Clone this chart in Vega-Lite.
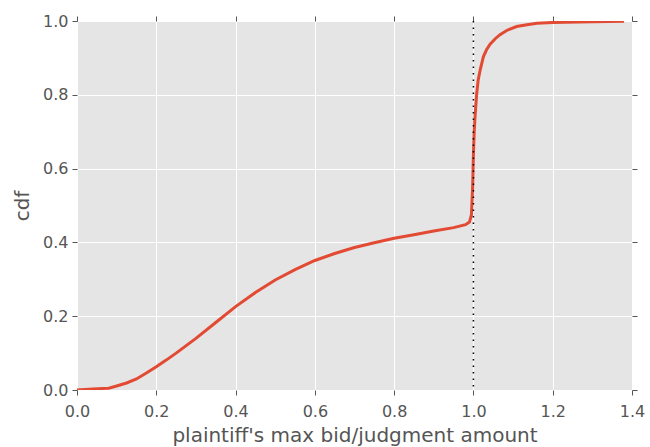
{
  "$schema": "https://vega.github.io/schema/vega-lite/v6.json",
  "autosize": {"type": "none"},
  "padding": {"left": 77, "top": 21, "right": 18, "bottom": 57},
  "width": 555,
  "height": 369,
  "background": "white",
  "config": {
    "view": {"fill": "#E5E5E5", "stroke": null},
    "font": "DejaVu Sans",
    "axis": {
      "gridColor": "white",
      "gridWidth": 1,
      "gridOpacity": 1,
      "domain": false,
      "tickColor": "#555555",
      "tickSize": 5,
      "tickWidth": 1,
      "labelColor": "#555555",
      "labelFontSize": 16,
      "titleColor": "#555555",
      "titleFontSize": 20,
      "titleFontWeight": "normal",
      "labelFont": "DejaVu Sans",
      "titleFont": "DejaVu Sans"
    }
  },
  "datasets": {
    "cdf": [
      {"x": 0.0, "y": 0.0},
      {"x": 0.04, "y": 0.003},
      {"x": 0.08, "y": 0.005},
      {"x": 0.1, "y": 0.011},
      {"x": 0.125, "y": 0.019},
      {"x": 0.15, "y": 0.03},
      {"x": 0.175, "y": 0.046},
      {"x": 0.2, "y": 0.063},
      {"x": 0.225, "y": 0.081},
      {"x": 0.25, "y": 0.1},
      {"x": 0.3, "y": 0.14},
      {"x": 0.35, "y": 0.183},
      {"x": 0.4, "y": 0.226},
      {"x": 0.45, "y": 0.264},
      {"x": 0.5, "y": 0.298},
      {"x": 0.55, "y": 0.326},
      {"x": 0.6, "y": 0.351},
      {"x": 0.65, "y": 0.37},
      {"x": 0.7, "y": 0.386},
      {"x": 0.75, "y": 0.399},
      {"x": 0.8, "y": 0.411},
      {"x": 0.85, "y": 0.421},
      {"x": 0.9, "y": 0.431},
      {"x": 0.95, "y": 0.44},
      {"x": 0.98, "y": 0.448},
      {"x": 0.99, "y": 0.455},
      {"x": 0.995, "y": 0.475},
      {"x": 0.998, "y": 0.55},
      {"x": 1.0, "y": 0.64},
      {"x": 1.002, "y": 0.7},
      {"x": 1.004, "y": 0.74},
      {"x": 1.008, "y": 0.8},
      {"x": 1.012, "y": 0.84},
      {"x": 1.017, "y": 0.867},
      {"x": 1.025, "y": 0.903},
      {"x": 1.033, "y": 0.922},
      {"x": 1.042, "y": 0.937},
      {"x": 1.055, "y": 0.952},
      {"x": 1.067, "y": 0.963},
      {"x": 1.085, "y": 0.975},
      {"x": 1.109, "y": 0.985},
      {"x": 1.135, "y": 0.99},
      {"x": 1.16, "y": 0.994},
      {"x": 1.2, "y": 0.996},
      {"x": 1.3, "y": 0.998},
      {"x": 1.38, "y": 0.999}
    ],
    "ref": [{"x": 1.0}]
  },
  "layer": [
    {
      "data": {"name": "cdf"},
      "mark": {"type": "line", "color": "#E24A33", "strokeWidth": 3, "clip": true},
      "encoding": {
        "x": {
          "field": "x", "type": "quantitative",
          "scale": {"domain": [0, 1.4], "nice": false, "zero": false},
          "axis": {"title": "plaintiff's max bid/judgment amount", "values": [0, 0.2, 0.4, 0.6, 0.8, 1.0, 1.2, 1.4], "format": ".1f", "labelPadding": 8, "titlePadding": 6, "labelFlush": false}
        },
        "y": {
          "field": "y", "type": "quantitative",
          "scale": {"domain": [0, 1.0], "nice": false},
          "axis": {"title": "cdf", "values": [0, 0.2, 0.4, 0.6, 0.8, 1.0], "format": ".1f", "labelPadding": 4, "titlePadding": 10, "labelFlush": false}
        }
      }
    },
    {
      "data": {"name": "ref"},
      "mark": {"type": "rule", "color": "black", "strokeWidth": 1.5, "strokeDash": [1.5, 5]},
      "encoding": {
        "x": {"field": "x", "type": "quantitative", "axis": {"orient": "top", "values": [0, 0.2, 0.4, 0.6, 0.8, 1.0, 1.2, 1.4], "labels": false, "title": null, "grid": false}}
      }
    },
    {
      "data": {"name": "ref"},
      "mark": {"type": "rule", "opacity": 0},
      "encoding": {
        "y": {"datum": 0, "type": "quantitative", "axis": {"orient": "right", "values": [0, 0.2, 0.4, 0.6, 0.8, 1.0], "labels": false, "title": null, "grid": false}}
      }
    }
  ],
  "resolve": {"axis": {"x": "independent", "y": "independent"}}
}
